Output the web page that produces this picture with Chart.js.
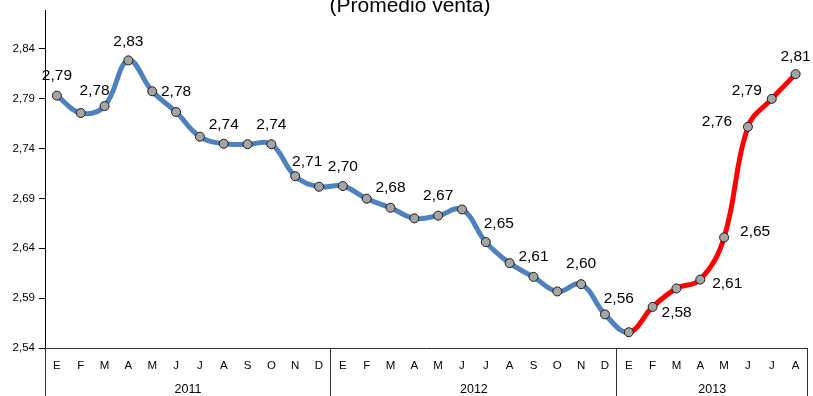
<!DOCTYPE html>
<html>
<head>
<meta charset="utf-8">
<script src="https://cdn.jsdelivr.net/npm/chart.js@4/dist/chart.umd.min.js"></script>
<style>
  html, body { margin: 0; padding: 0; background: #fff; overflow: hidden; }
  #wrap { position: relative; width: 813px; height: 396px; }
</style>
</head>
<body>
<div id="wrap"><canvas id="c" width="813" height="396"></canvas></div>
<script>
// Monthly average selling price, Jan 2011 – Aug 2013
const months = ['E','F','M','A','M','J','J','A','S','O','N','D',
                'E','F','M','A','M','J','J','A','S','O','N','D',
                'E','F','M','A','M','J','J','A'];
const years = ['2011', '2012', '2013'];
const monthsPerYear = [12, 12, 8];
const precio = [2.793, 2.7756, 2.7826, 2.8284, 2.7974, 2.7766, 2.7519, 2.7448, 2.7443, 2.7443, 2.7123, 2.7017,
                2.7024, 2.6897, 2.6806, 2.6700, 2.6727, 2.6789, 2.6462, 2.6251, 2.6113, 2.5967, 2.6040, 2.5737,
                2.5558, 2.5812, 2.5997, 2.6086, 2.6509, 2.7618, 2.7898, 2.8146];
const yTicks = [2.54, 2.59, 2.64, 2.69, 2.74, 2.79, 2.84];
const labeledPoints = [0, 2, 3, 5, 7, 9, 10, 12, 14, 16, 18, 20, 22, 24, 25, 27, 28, 29, 30, 31];
const titleText = '(Promedio venta)';

// where each value label sits relative to its point (text centre, px)
const labelOffset = {
  0: [0, -20], 2: [-10, -15], 3: [0, -19], 5: [0, -20], 7: [0, -19], 9: [0, -20],
  10: [12, -14], 12: [0, -19], 14: [0, -20], 16: [0, -20], 18: [13, -18], 20: [0, -20],
  22: [0, -20], 24: [-10, -34], 25: [24, 6], 27: [27, 4], 28: [31, -6], 29: [-31, -5],
  30: [-25, -8], 31: [0, -17]
};

const FONT = '"Liberation Sans", Arial, sans-serif';
const BLUE = '#4F81BD';
const RED = '#FF0000';
const fmt = v => v.toFixed(2).replace('.', ',');

const decorations = {
  id: 'decorations',
  afterDatasetsDraw(chart) {
    const ctx = chart.ctx;
    const x = chart.scales.x;
    const area = chart.chartArea;
    const meta = chart.getDatasetMeta(0);
    const half = (x.getPixelForValue(1) - x.getPixelForValue(0)) / 2;

    ctx.save();
    // title
    ctx.fillStyle = '#000';
    ctx.font = '21px ' + FONT;
    ctx.textAlign = 'center';
    ctx.textBaseline = 'alphabetic';
    ctx.fillText(titleText, 410, 12);

    // value labels
    ctx.font = '15.5px ' + FONT;
    ctx.textBaseline = 'middle';
    labeledPoints.forEach(i => {
      const p = meta.data[i];
      const off = labelOffset[i] || [0, -20];
      ctx.fillText(fmt(precio[i]), p.x + off[0], p.y + off[1]);
    });

    // month labels
    ctx.font = '11.5px ' + FONT;
    months.forEach((m, i) => {
      ctx.fillText(m, x.getPixelForValue(i), area.bottom + 18);
    });

    // year groups: separators and labels
    ctx.strokeStyle = '#333';
    ctx.lineWidth = 1;
    let start = 0;
    const bounds = [0];
    monthsPerYear.forEach((n, k) => {
      const left = x.getPixelForValue(start) - half;
      const right = x.getPixelForValue(start + n - 1) + half;
      ctx.font = '12.5px ' + FONT;
      ctx.fillText(years[k], (left + right) / 2, area.bottom + 42);
      start += n;
      bounds.push(start);
    });
    bounds.forEach(b => {
      const px = Math.floor(x.getPixelForValue(b) - half) + 0.5;
      ctx.beginPath();
      ctx.moveTo(px, area.bottom);
      ctx.lineTo(px, chart.height);
      ctx.stroke();
    });
    ctx.restore();
  }
};

new Chart(document.getElementById('c'), {
  type: 'line',
  data: {
    labels: months,
    datasets: [{
      data: precio,
      borderColor: BLUE,
      borderWidth: 5,
      tension: 0.4,
      fill: false,
      segment: {
        borderColor: c => (c.p0DataIndex >= 24 ? RED : BLUE)
      },
      pointRadius: 4.5,
      pointBackgroundColor: '#A5A5A5',
      pointBorderColor: '#1a1a1a',
      pointBorderWidth: 1
    }]
  },
  options: {
    responsive: false,
    animation: false,
    devicePixelRatio: 1,
    layout: { padding: { top: 7, right: 2.5, left: 0, bottom: 0 } },
    plugins: { legend: { display: false }, tooltip: { enabled: false }, title: { display: false } },
    scales: {
      x: {
        type: 'category',
        offset: true,
        grid: { display: false },
        border: { display: true, color: '#333', width: 1 },
        ticks: { display: false },
        afterFit: s => { s.height = 48; }
      },
      y: {
        min: 2.54,
        max: 2.878,
        afterBuildTicks: s => { s.ticks = yTicks.map(v => ({ value: v })); },
        grid: { display: true, drawOnChartArea: false, drawTicks: true, tickLength: 6, color: '#000' },
        border: { display: true, color: '#000', width: 1 },
        ticks: {
          padding: 4,
          color: '#000',
          font: { family: FONT, size: 11.5 },
          callback: v => fmt(v)
        },
        afterFit: s => { s.width = 45; }
      }
    }
  },
  plugins: [decorations]
});
</script>
</body>
</html>
